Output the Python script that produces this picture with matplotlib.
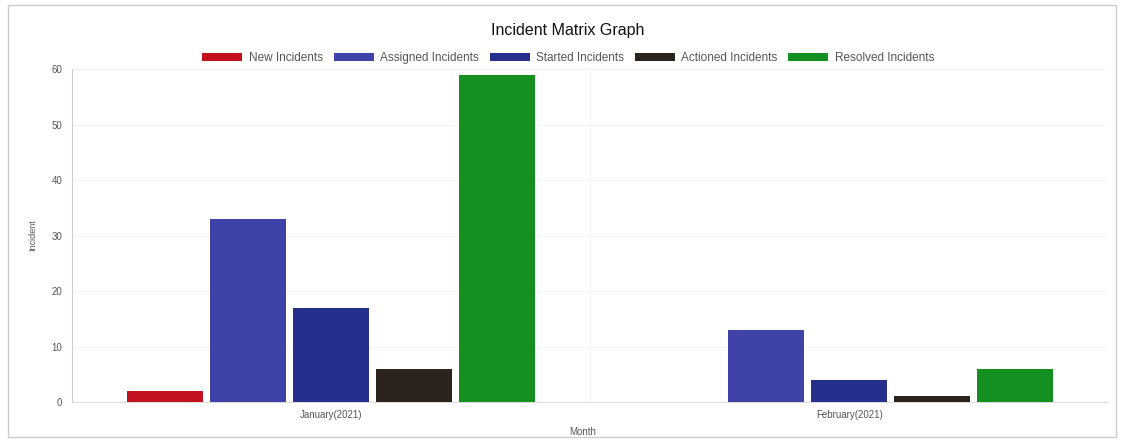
import matplotlib
matplotlib.use("Agg")
import matplotlib.pyplot as plt
import numpy as np
from matplotlib.patches import Rectangle

plt.rcParams['font.family'] = ['Liberation Sans', 'DejaVu Sans']

months = ["January(2021)", "February(2021)"]
series_names = ["New Incidents", "Assigned Incidents", "Started Incidents",
                "Actioned Incidents", "Resolved Incidents"]
new_incidents = [2, 0]
assigned_incidents = [33, 13]
started_incidents = [17, 4]
actioned_incidents = [6, 1]
resolved_incidents = [59, 6]
colors = ["#c4111f", "#3f43a8", "#26308c", "#2d231d", "#13901f"]

series_values = [new_incidents, assigned_incidents, started_incidents,
                 actioned_incidents, resolved_incidents]

fig = plt.figure(figsize=(11.24, 4.41), dpi=100)
ax = fig.add_axes([0.064, 0.0884, 0.922, 0.755])

x = np.arange(len(months))
step = 0.16
width = 0.147
n = len(series_names)
for i, (name, vals, col) in enumerate(zip(series_names, series_values, colors)):
    offs = (i - (n - 1) / 2) * step
    ax.bar(x + offs, vals, width=width, color=col, label=name, zorder=3)

ax.set_xlim(-0.5, 1.5)
ax.set_ylim(0, 60)
ax.set_yticks(np.arange(0, 61, 10))
ax.set_xticks(x)
ax.set_xticklabels(months)
ax.tick_params(axis='both', length=0, labelsize=7, colors='#555555')
ax.tick_params(axis='y', pad=7)
ax.tick_params(axis='x', pad=6)

for s in ['top', 'right']:
    ax.spines[s].set_visible(False)
ax.spines['left'].set_color('#c8ccd8')
ax.spines['bottom'].set_color('#dddddd')
ax.spines['left'].set_linewidth(0.8)
ax.spines['bottom'].set_linewidth(0.8)

ax.yaxis.grid(True, color='#f3f3f3', linewidth=0.7, zorder=0)
ax.axvline(0.5, color='#f4f4f4', linewidth=0.7, zorder=0)

ax.set_ylabel("Incident", fontsize=6.5, color='#555555', labelpad=10)
ax.set_xlabel("Month", fontsize=7, color='#555555', labelpad=4)
ax.xaxis.set_label_coords(0.493, -0.075)

fig.text(0.505, 0.93, "Incident Matrix Graph", ha='center', va='center',
         fontsize=11.5, color='#111111')

leg = ax.legend(loc='center', bbox_to_anchor=(0.479, 1.033), ncol=5,
                frameon=False, fontsize=8.5, handlelength=3.4,
                handleheight=0.75, handletextpad=0.55, columnspacing=0.9,
                labelcolor='#555555')

fig.patches.append(Rectangle((0.007, 0.01), 0.986, 0.978,
                             transform=fig.transFigure, fill=False,
                             edgecolor='#cccccc', linewidth=1.0))

fig.savefig("out.png", dpi=100)
